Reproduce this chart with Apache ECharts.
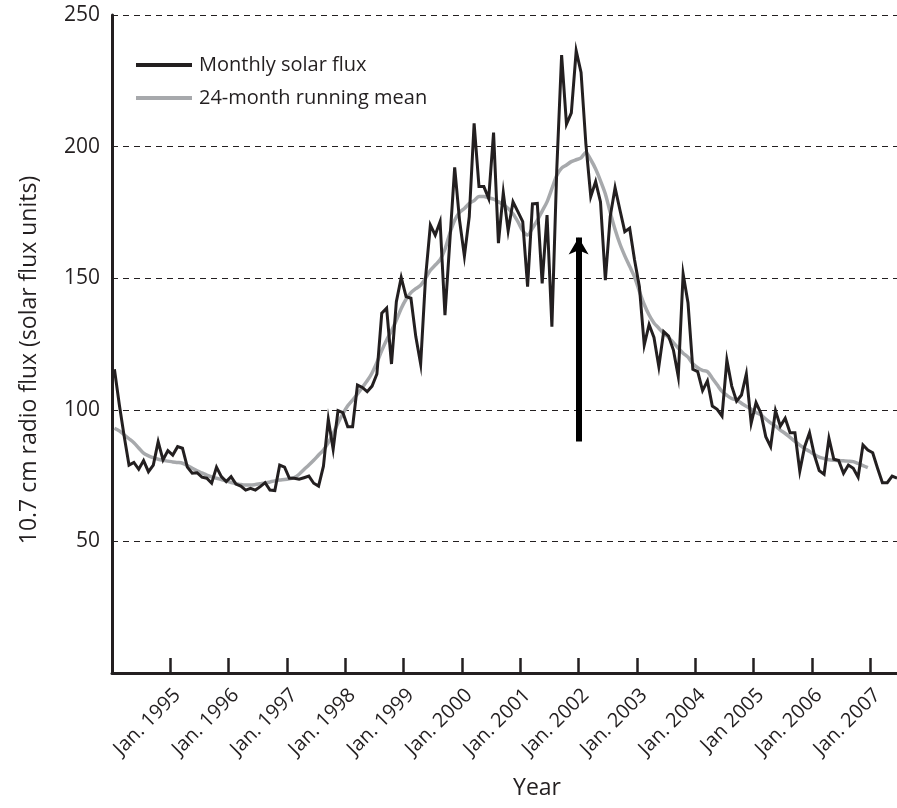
<!DOCTYPE html>
<html>
<head>
<meta charset="utf-8">
<title>10.7 cm solar radio flux</title>
<script src="https://cdn.jsdelivr.net/npm/echarts@6/dist/echarts.min.js"></script>
<style>
  html, body { margin: 0; padding: 0; background: #fff; }
  #chart { width: 897px; height: 808px; }
</style>
</head>
<body>
<div id="chart"></div>
<script>
// Monthly 10.7 cm solar flux, Jan. 1994 onward (one value per month)
const monthlyFlux = [
  115.4, 102, 90, 79, 80, 77.4, 80.7, 76.5, 79, 87.9, 81, 84.5,
  82.8, 86, 85.4, 78.2, 75.9, 76.1, 74.4, 74, 72.1, 78.2, 74.6, 72.7,
  74.6, 71.8, 71, 69.5, 70.2, 69.5, 70.8, 72.3, 69.5, 69.3, 79, 78.2,
  74, 74, 73.6, 74.2, 74.8, 72.1, 71, 78.6, 96.4, 85, 99.7, 98.9,
  93.6, 93.6, 109.4, 108.5, 106.9, 109, 113.6, 136.7, 138.6, 117.4, 141.1, 150.3,
  143, 142.4, 127.8, 117.4, 150, 170.2, 166.4, 171.5, 136, 164, 192.1, 172,
  158.4, 173.4, 208.8, 184.8, 184.8, 180.3, 205.3, 163.3, 182.5, 168, 179, 175.3,
  171.5, 146.8, 178.2, 178.4, 148, 174, 131.6, 191.1, 234.8, 208.5, 212.8, 236.4,
  228.2, 200.8, 181, 186.7, 179, 149.3, 173.4, 184.4, 175.9, 167.7, 169, 157,
  146.8, 124.6, 132.4, 127.5, 116.4, 129.7, 128, 122.7, 112.6, 151.6, 140.7, 115.4,
  114.5, 107.3, 111, 101.4, 100.2, 97.6, 118.9, 109, 103.3, 105.6, 113.6, 94.9,
  102.7, 98.7, 89.8, 86, 99.7, 93.8, 96.8, 91.3, 91.3, 76.7, 86, 91.3,
  82.8, 76.9, 75.5, 89.2, 81.2, 80.7, 75.9, 79, 77.8, 74.4, 86.6, 84.7,
  83.7, 77.8, 72.3, 72.3, 74.8, 74
];

// 24-month running mean, same monthly steps from Jan. 1994
const runningMean = [
  93, 92, 90.5, 89, 87.5, 85.5, 83.5, 82.5, 81.8, 81.2, 80.8, 80.5,
  80.2, 80, 79.7, 78.8, 77.8, 76.8, 76, 75.2, 74.5, 74, 73.5, 73,
  72.4, 72, 71.6, 71.4, 71.4, 71.6, 71.9, 72.2, 72.6, 73, 73.3, 73.5,
  73.8, 74.2, 75.5, 77.3, 79, 80.8, 82.8, 84.7, 87.5, 91, 95, 98.5,
  101.5, 103.7, 106, 108.5, 111, 114, 118, 122.5, 126.5, 130, 134, 138.5,
  142, 144.5, 146, 147.3, 150, 153, 155, 157, 161, 167, 172, 175,
  176.5, 178.4, 179.5, 181, 181, 180.5, 180, 179, 178, 176.5, 174.5, 171.5,
  168, 166.4, 169, 172, 175.5, 179, 184, 189, 191.8, 193, 194.3, 195,
  195.7, 197.8, 195, 191.5, 187, 182, 175, 168.5, 163, 158.5, 154.5, 150.5,
  145, 140, 136, 133, 131, 129, 127.5, 125.5, 123.5, 121.5, 120, 117.5,
  116, 115, 114.5, 112, 109.5, 107, 105.5, 104.3, 103.7, 102.5, 101.3, 100.2,
  99, 98, 96.5, 95, 93.8, 92.3, 91, 89.5, 88, 86.6, 85.3, 84.2,
  83, 82, 81.5, 81, 80.8, 80.7, 80.6, 80.5, 80.3, 79.6, 78.8, 78
];

// Year tick labels (one per January, starting Jan. 1995)
const yearLabels = [
  'Jan. 1995', 'Jan. 1996', 'Jan. 1997', 'Jan. 1998', 'Jan. 1999', 'Jan. 2000',
  'Jan. 2001', 'Jan. 2002', 'Jan. 2003', 'Jan. 2004', 'Jan 2005', 'Jan. 2006', 'Jan. 2007'
];
const yTicks = [0, 50, 100, 150, 200, 250];

// Upward arrow marking Jan. 2002: [month index, flux from, flux to]
const arrowMark = [96, 88, 165.5];

const seriesNames = ['Monthly solar flux', '24-month running mean'];

const INK = '#231f20';
const GREY = '#a7a9ac';
const FONT = '"Open Sans", "Noto Sans", sans-serif';

// x is measured in months since Jan. 1994; each monthly value sits mid-month
const toPoints = arr => arr.map((v, i) => [i + 0.5, v]);
const yearTickValues = yearLabels.map((_, k) => (k + 1) * 12);

const chart = echarts.init(document.getElementById('chart'), null, { renderer: 'canvas' });

chart.setOption({
  animation: false,
  backgroundColor: '#ffffff',
  grid: { left: 112, right: 0, top: 15, bottom: 135, containLabel: false },
  legend: {
    orient: 'vertical',
    left: 131,
    top: 49,
    itemWidth: 56,
    itemHeight: 4,
    itemGap: 11,
    icon: 'rect',
    selectedMode: false,
    data: seriesNames,
    textStyle: { fontFamily: FONT, fontSize: 20, color: INK, lineHeight: 22, padding: [0, 0, 0, 2] }
  },
  xAxis: {
    type: 'value',
    min: 0,
    max: 161.5,
    interval: 12,
    axisLine: { show: true, onZero: false, lineStyle: { color: INK, width: 3 } },
    axisTick: {
      show: true, inside: true, length: 15,
      customValues: yearTickValues,
      lineStyle: { color: INK, width: 2.5 }
    },
    axisLabel: {
      show: true,
      customValues: yearTickValues,
      rotate: 45,
      margin: 12,
      verticalAlign: 'top',
      fontFamily: FONT,
      fontSize: 20,
      color: INK,
      formatter: v => yearLabels[Math.round(v / 12) - 1] || ''
    },
    splitLine: { show: false }
  },
  yAxis: {
    type: 'value',
    min: yTicks[0],
    max: yTicks[yTicks.length - 1],
    interval: 50,
    axisLine: { show: true, lineStyle: { color: INK, width: 3 } },
    axisTick: { show: false },
    axisLabel: {
      showMinLabel: false,
      margin: 12,
      fontFamily: FONT,
      fontSize: 21,
      color: INK
    },
    splitLine: { show: true, lineStyle: { color: INK, width: 1, type: [6, 5] } }
  },
  graphic: [
    {
      type: 'text',
      x: 29, y: 360,
      rotation: Math.PI / 2,
      style: {
        text: '10.7 cm radio flux (solar flux units)',
        font: '23px ' + FONT,
        fill: INK,
        align: 'center',
        verticalAlign: 'middle'
      }
    },
    {
      type: 'text',
      x: 537, y: 788,
      style: {
        text: 'Year',
        font: '23px ' + FONT,
        fill: INK,
        align: 'center',
        verticalAlign: 'middle'
      }
    }
  ],
  series: [
    {
      name: seriesNames[1],
      type: 'line',
      data: toPoints(runningMean),
      showSymbol: false,
      symbol: 'none',
      smooth: 0.3,
      color: GREY,
      lineStyle: { color: GREY, width: 3.5 },
      silent: true,
      z: 2
    },
    {
      name: seriesNames[0],
      type: 'line',
      data: toPoints(monthlyFlux),
      showSymbol: false,
      symbol: 'none',
      color: INK,
      lineStyle: { color: INK, width: 3, join: 'miter' },
      silent: true,
      z: 3,
      markLine: {
        silent: true,
        symbol: ['none', 'arrow'],
        symbolSize: [15, 17],
        label: { show: false },
        lineStyle: { color: '#000', width: 6, type: 'solid' },
        data: [[
          { coord: [arrowMark[0], arrowMark[1]] },
          { coord: [arrowMark[0], arrowMark[2]] }
        ]]
      }
    }
  ]
});
</script>
</body>
</html>
